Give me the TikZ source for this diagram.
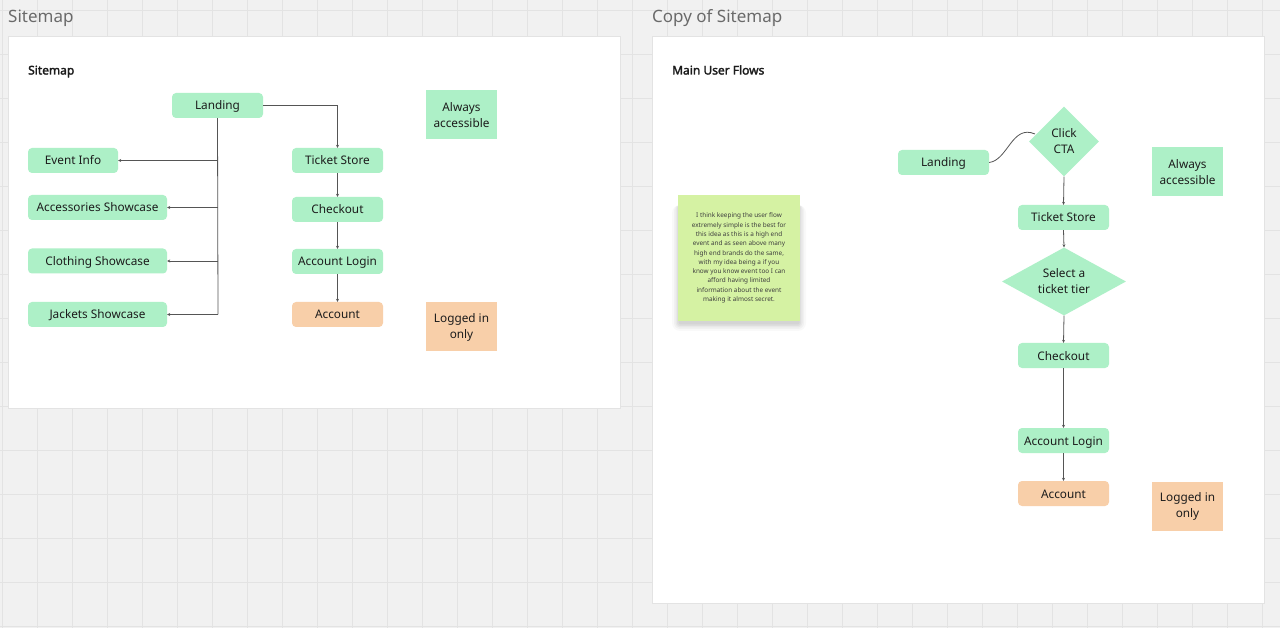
\documentclass[tikz,border=0pt]{standalone}
\usepackage{fontspec}
\setmainfont{Noto Sans}
\newfontfamily\headfont{Noto Sans}[FakeBold=2.2]
\usetikzlibrary{arrows.meta,shapes.geometric}
\definecolor{bgc}{HTML}{F1F1F1}
\definecolor{gridc}{HTML}{E3E3E3}
\definecolor{greenc}{HTML}{ADF0C7}
\definecolor{orangec}{HTML}{F8CFA9}
\definecolor{stickyc}{HTML}{D5F2A3}
\definecolor{textc}{HTML}{1C1C1C}
\definecolor{linec}{HTML}{555555}
\definecolor{titlec}{HTML}{6A6A6A}
\tikzset{
  x=1pt, y=-1pt,
  boxn/.style={fill=greenc, rounded corners=4pt, minimum width=91pt, minimum height=25pt,
    inner sep=0pt, text=textc, text height=9pt, text depth=0pt, font=\fontsize{11.8}{13}\selectfont},
  wideb/.style={boxn, minimum width=139pt},
  orangeb/.style={boxn, fill=orangec},
  legend/.style={minimum width=71pt, minimum height=49pt, inner sep=0pt, text=textc,
    align=center, font=\fontsize{11.8}{16}\selectfont},
  dia/.style={diamond, fill=greenc, inner sep=0pt, text=textc, align=center,
    font=\fontsize{11.8}{16}\selectfont},
  conn/.style={draw=linec, line width=0.8pt, -{Stealth[length=3pt,width=3pt]}},
  plain/.style={draw=linec, line width=0.8pt},
  panel/.style={fill=white, draw=gridc, line width=0.8pt},
  ptitle/.style={anchor=west, text=titlec, inner sep=0pt, font=\fontsize{17}{20}\selectfont},
  phead/.style={anchor=west, text=textc, inner sep=0pt, text height=9pt, text depth=0pt, font=\fontsize{12}{14}\headfont},
}
\begin{document}
\begin{tikzpicture}
\useasboundingbox (0,0) rectangle (1280,628);
\fill[bgc] (0,0) rectangle (1280,628);
\foreach \k in {0,...,36} \draw[gridc, line width=0.8pt] ({2.5+35*\k},0) -- ({2.5+35*\k},628);
\foreach \k in {0,...,14} \draw[gridc, line width=0.8pt] (0,{10+44*\k}) -- (1280,{10+44*\k});

% panels
\draw[panel] (8,36) rectangle (620,408);
\draw[panel] (652,36) rectangle (1264,603);
\node[ptitle] (t1) at (8,18) {Sitemap};
\node[ptitle] (t2) at (652,18) {Copy of Sitemap};
\node[phead] (h1) at (28,70) {Sitemap};
\node[phead] (h2) at (672,70) {Main User Flows};

% left sitemap
\node[boxn] (land) at (217.5,105.5) {Landing};
\node[boxn, minimum width=90pt] (event) at (73,160.5) {Event Info};
\node[wideb] (acc) at (97.5,207.5) {Accessories Showcase};
\node[wideb] (cloth) at (97.5,261) {Clothing Showcase};
\node[wideb] (jack) at (97.5,314.5) {Jackets Showcase};
\node[boxn] (ts) at (337.5,160.5) {Ticket Store};
\node[boxn] (co) at (337.5,209.5) {Checkout};
\node[boxn] (al) at (337.5,261.5) {Account Login};
\node[orangeb] (ac) at (337.5,314.5) {Account};
\node[legend, fill=greenc] (leg1) at (461.5,115) {Always\\accessible};
\node[legend, fill=orangec] (leg2) at (461.5,327) {Logged in\\only};

\coordinate (trunk) at (218,314.5);
\draw[plain] (land.south) -- (trunk);
\draw[conn] (land.south |- event.east) -- (event.east);
\draw[conn] (land.south |- acc.east) -- (acc.east);
\draw[conn] (land.south |- cloth.east) -- (cloth.east);
\draw[conn] (trunk) -- (jack.east);
\draw[conn] (land.east) -| (ts.north);
\draw[conn] (ts) -- (co);
\draw[conn] (co) -- (al);
\draw[conn] (al) -- (ac);

% right user flows
\node[boxn] (land2) at (943.5,162.5) {Landing};
\node[dia, minimum width=70pt, minimum height=70pt] (cta) at (1064,141.5) {Click\\CTA};
\node[boxn] (ts2) at (1063.5,217.5) {Ticket Store};
\node[dia, minimum width=124pt, minimum height=68pt, aspect=1.8] (tier) at (1064,281.5) {Select a\\ticket tier};
\node[boxn] (co2) at (1063.5,355.5) {Checkout};
\node[boxn] (al2) at (1063.5,440.5) {Account Login};
\node[orangeb] (ac2) at (1063.5,493.5) {Account};
\node[legend, fill=greenc] (leg3) at (1187.5,172) {Always\\accessible};
\node[legend, fill=orangec] (leg4) at (1187.5,506) {Logged in\\only};

\coordinate (ctain) at (1035,134);
\draw[plain] (land2.east) .. controls (1008,160) and (1012,124) .. (ctain);
\draw[conn] (cta.south) -- (ts2.north);
\draw[conn] (ts2.south) -- (tier.north);
\draw[conn] (tier.south) -- (co2.north);
\draw[conn] (co2) -- (al2);
\draw[conn] (al2) -- (ac2);

% sticky note soft shadow (mostly below)
\foreach \s/\o in {8/0.025,6/0.03,4.5/0.035,3/0.04,1.5/0.045}
  \fill[black, opacity=\o, rounded corners=\s pt] ({678-\s+2},{205}) rectangle ({800+\s-2},{321+\s+2});
\node[fill=stickyc, minimum width=122pt, minimum height=126pt, inner sep=0pt] (sticky) at (739,258) {};
\node[text=textc!85, align=center, inner sep=0pt, font=\fontsize{6.4}{9.3}\selectfont] (stext) at (sticky.center)
 {I think keeping the user flow\\extremely simple is the best for\\this idea as this is a high end\\event and as seen above many\\high end brands do the same,\\with my idea being a if you\\know you know event too I can\\afford having limited\\information about the event\\making it almost secret.};
\end{tikzpicture}
\end{document}
